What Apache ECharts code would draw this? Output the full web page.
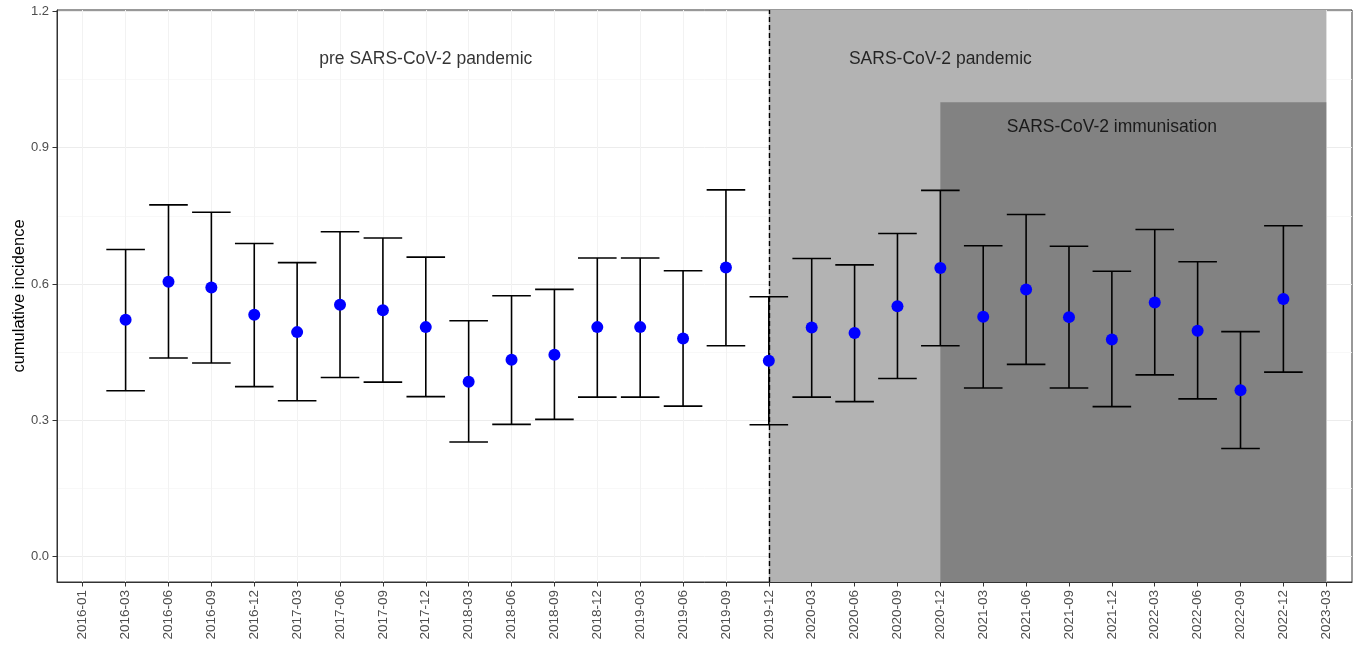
<!DOCTYPE html>
<html><head><meta charset="utf-8">
<script src="https://cdn.jsdelivr.net/npm/echarts@6/dist/echarts.min.js"></script>
<style>html,body{margin:0;padding:0;background:#fff}#c{width:1361px;height:650px}</style>
</head><body><div id="c"></div>
<script>
// x-axis tick labels (discrete axis)
const tickLabels = ['2016-01','2016-03','2016-06','2016-09','2016-12','2017-03','2017-06','2017-09','2017-12',
  '2018-03','2018-06','2018-09','2018-12','2019-03','2019-06','2019-09','2019-12','2020-03','2020-06','2020-09',
  '2020-12','2021-03','2021-06','2021-09','2021-12','2022-03','2022-06','2022-09','2022-12','2023-03'];
// measurement periods
const periods = ['2016-03','2016-06','2016-09','2016-12','2017-03','2017-06','2017-09','2017-12',
  '2018-03','2018-06','2018-09','2018-12','2019-03','2019-06','2019-09','2019-12','2020-03','2020-06','2020-09',
  '2020-12','2021-03','2021-06','2021-09','2021-12','2022-03','2022-06','2022-09','2022-12'];
const incidence = [0.521,0.605,0.592,0.532,0.494,0.554,0.542,0.505,0.385,0.433,0.444,0.505,0.505,0.480,0.636,0.431,
  0.504,0.492,0.551,0.635,0.528,0.588,0.527,0.478,0.559,0.497,0.366,0.567];
const lowerCI = [0.365,0.437,0.426,0.374,0.343,0.394,0.384,0.352,0.252,0.291,0.302,0.351,0.351,0.331,0.464,0.290,
  0.351,0.341,0.392,0.464,0.371,0.423,0.371,0.330,0.400,0.347,0.238,0.406];
const upperCI = [0.676,0.774,0.758,0.689,0.647,0.715,0.701,0.659,0.519,0.574,0.588,0.657,0.657,0.629,0.807,0.572,
  0.656,0.642,0.711,0.806,0.684,0.753,0.683,0.628,0.720,0.649,0.495,0.728];
const yTicks = [0, 0.3, 0.6, 0.9, 1.2];
const yMinorTicks = [0.15, 0.45, 0.75, 1.05];
const yLimits = [-0.056, 1.203];
// shaded phases
const pandemicStart = '2019-12', pandemicEnd = '2023-03';
const immunisationStart = '2020-12', immunisationEnd = '2023-03', immunisationTop = 1.0;
const annotations = [
  ['2017-12', 1.094, 'pre SARS-CoV-2 pandemic'],
  ['2020-12', 1.094, 'SARS-CoV-2 pandemic'],
  ['2021-12', 0.945, 'SARS-CoV-2 immunisation']
];

const idx = c => tickLabels.indexOf(c);
const xIdx = tickLabels.map((_, i) => i);
const ciData = periods.map((p, i) => [idx(p), lowerCI[i], upperCI[i]]);
const ptData = periods.map((p, i) => [idx(p), incidence[i]]);
const FONT = '"Liberation Sans", Arial, sans-serif';

const chart = echarts.init(document.getElementById('c'), null, {renderer: 'canvas'});
chart.setOption({
  animation: false,
  backgroundColor: '#ffffff',
  grid: {left: 57, right: 9, top: 10, bottom: 68, containLabel: false, outerBoundsMode: 'none',
    show: true, borderColor: '#333333', borderWidth: 1, backgroundColor: 'transparent'},
  xAxis: {
    type: 'value', min: -0.6, max: tickLabels.length - 1 + 0.6,
    axisLine: {show: true, onZero: false, lineStyle: {color: '#333333', width: 1}},
    axisTick: {show: true, customValues: xIdx, length: 4.5, lineStyle: {color: '#333333'}},
    axisLabel: {customValues: xIdx, rotate: 90, margin: 8, color: '#4d4d4d', fontSize: 13.5, fontFamily: FONT,
      formatter: v => tickLabels[Math.round(v)] || ''},
    splitLine: {show: false}
  },
  yAxis: {
    type: 'value', min: yLimits[0], max: yLimits[1],
    name: 'cumulative incidence', nameLocation: 'middle', nameGap: 29, nameMoveOverlap: false,
    nameTextStyle: {color: '#000000', fontSize: 16.5, fontFamily: FONT},
    axisLine: {show: true, onZero: false, lineStyle: {color: '#333333', width: 1}},
    axisTick: {show: true, customValues: yTicks, length: 4.5, lineStyle: {color: '#333333'}},
    axisLabel: {customValues: yTicks, margin: 8, color: '#4d4d4d', fontSize: 13, fontFamily: FONT,
      formatter: v => v.toFixed(1)},
    splitLine: {show: false}
  },
  series: [
    { // background grid lines
      type: 'line', data: [], z: 0, silent: true,
      markLine: {
        z: 0, silent: true, symbol: 'none', label: {show: false}, animation: false,
        data: [
          ...yMinorTicks.map(v => ({yAxis: v, lineStyle: {color: '#f6f6f6', width: 0.8, type: 'solid'}})),
          ...yTicks.map(v => ({yAxis: v, lineStyle: {color: '#ececec', width: 1, type: 'solid'}})),
          ...xIdx.map(v => ({xAxis: v, lineStyle: {color: '#f2f2f2', width: 1, type: 'solid'}}))
        ]
      }
    },
    { // shaded phases
      type: 'line', data: [], z: 2, silent: true,
      markArea: {
        z: 1, silent: true, label: {show: false},
        data: [
          [{xAxis: idx(pandemicStart), itemStyle: {color: '#b3b3b3'}}, {xAxis: idx(pandemicEnd)}],
          [{xAxis: idx(immunisationStart), yAxis: yLimits[0], itemStyle: {color: '#828282'}}, {xAxis: idx(immunisationEnd), yAxis: immunisationTop}]
        ]
      },
      markLine: {
        z: 3, silent: true, symbol: 'none', label: {show: false},
        lineStyle: {color: '#000000', width: 1.4, type: [5, 3]},
        data: [{xAxis: idx(pandemicStart)}]
      }
    },
    { // error bars
      type: 'custom', z: 4, silent: true,
      data: ciData,
      encode: {x: 0, y: [1, 2]},
      renderItem: (params, api) => {
        const x = api.value(0);
        const lo = api.coord([x, api.value(1)]);
        const hi = api.coord([x, api.value(2)]);
        const half = api.size([0.45, 0])[0];
        const st = {stroke: '#000000', lineWidth: 1.6};
        return {type: 'group', children: [
          {type: 'line', shape: {x1: lo[0], y1: lo[1], x2: hi[0], y2: hi[1]}, style: st},
          {type: 'line', shape: {x1: lo[0] - half, y1: lo[1], x2: lo[0] + half, y2: lo[1]}, style: st},
          {type: 'line', shape: {x1: hi[0] - half, y1: hi[1], x2: hi[0] + half, y2: hi[1]}, style: st}
        ]};
      }
    },
    { // points
      type: 'scatter', z: 5, data: ptData, symbol: 'circle', symbolSize: 12,
      itemStyle: {color: '#0000ff', opacity: 1}
    },
    { // annotations
      type: 'scatter', z: 6, silent: true, symbolSize: 0,
      data: annotations.map(a => ({value: [idx(a[0]), a[1]], name: a[2]})),
      label: {show: true, position: 'inside', formatter: '{b}', color: '#000000', fontSize: 17.5, fontFamily: FONT}
    }
  ]
});
</script>
</body></html>
